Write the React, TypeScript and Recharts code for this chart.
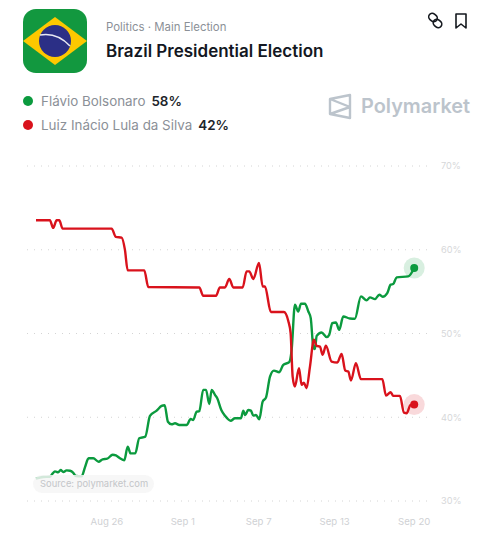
import React from "react";
import { LineChart, Line, XAxis, YAxis, CartesianGrid } from "recharts";

// days counted from Aug 26
const GREEN_DAYS = [
  -5.61, -5.03, -4.51, -4.29, -4.11, -3.85, -3.66, -3.45, -3.19, -2.92, -2.66, -2.45, -2.0, -1.74, -1.45, -1.08, -0.66,
  -0.34, 0.02, 0.45, 0.71, 1.03, 1.37, 1.64, 1.87, 2.24, 2.55, 3.03, 3.4, 3.93, 4.32, 4.56, 4.82, 5.11, 5.38, 5.72, 6.3,
  6.62, 6.82, 7.09, 7.3, 7.61, 7.83, 8.09, 8.28, 8.54, 8.72, 9.04, 9.33, 9.78, 10.12, 10.59, 10.78, 10.93, 11.17, 11.38,
  11.57, 11.78, 12.04, 12.31, 12.57, 12.89, 13.2, 13.62, 13.94, 14.41, 14.6, 14.86, 15.12, 15.34, 15.65, 15.92, 16.11,
  16.31, 16.44, 16.58, 16.97, 17.37, 17.57, 17.81, 18.1, 18.36, 18.68, 19.21, 19.6, 20.08, 20.53, 20.79, 21.19, 21.53,
  21.79, 22.16, 22.43, 22.63, 22.9, 23.82, 24.29,
];
const GREEN_VALUES = [
  32.66, 32.86, 32.9, 33.3, 33.54, 33.42, 33.7, 33.46, 33.66, 33.61, 33.37, 32.98, 32.94, 34.02, 35.1, 35.1, 34.69,
  34.98, 35.05, 35.53, 35.45, 35.1, 34.86, 36.48, 35.69, 35.69, 37.49, 37.68, 40.16, 40.79, 41.35, 41.44, 39.47, 39.16,
  39.28, 39.08, 39.08, 39.8, 39.68, 40.67, 40.72, 43.27, 43.27, 41.59, 43.27, 42.67, 42.27, 40.87, 40.19, 39.59, 39.88,
  39.88, 40.79, 40.27, 40.87, 40.79, 40.19, 40.27, 39.76, 41.87, 42.34, 44.86, 45.57, 45.38, 46.26, 46.58, 48.05, 53.43,
  52.63, 53.55, 53.55, 52.63, 51.84, 48.44, 48.13, 49.72, 50.12, 49.57, 49.84, 51.24, 51.32, 50.44, 52.03, 51.79, 51.76,
  54.43, 53.95, 54.31, 54.11, 54.63, 54.39, 54.83, 55.83, 55.91, 56.7, 56.82, 57.82,
];
const RED_DAYS = [
  -5.61, -4.51, -4.25, -3.98, -3.77, -3.5, 0.37, 0.71, 1.16, 1.42, 1.64, 2.95, 3.27, 7.3, 7.61, 8.62, 8.93, 9.33, 9.67,
  9.99, 10.73, 11.04, 11.25, 11.57, 12.02, 12.31, 12.49, 12.96, 13.99, 14.33, 14.52, 14.68, 14.86, 15.18, 15.39, 15.57,
  15.78, 16.05, 16.36, 16.58, 16.84, 17.05, 17.31, 17.76, 18.21, 18.55, 18.84, 19.08, 19.29, 19.68, 20.08, 21.77, 22.06,
  22.43, 22.63, 23.16, 23.48, 23.69, 24.0, 24.29,
];
const RED_VALUES = [
  63.52, 63.52, 62.61, 63.52, 63.52, 62.52, 62.52, 61.53, 61.45, 60.01, 57.54, 57.54, 55.55, 55.5, 54.51, 54.51, 55.5,
  55.5, 56.51, 55.5, 55.5, 57.42, 57.42, 56.51, 58.42, 55.62, 55.62, 52.56, 52.56, 51.52, 50.05, 44.86, 43.66, 45.86,
  43.86, 44.14, 43.47, 46.05, 49.25, 48.53, 48.44, 47.45, 48.53, 46.65, 46.53, 47.57, 45.57, 45.45, 44.38, 46.46, 44.55,
  44.55, 42.58, 42.99, 42.55, 42.55, 40.55, 40.48, 41.47, 41.51,
];

const X_TICKS = [0, 6, 12, 18, 24.29];
const X_LABELS = ["Aug 26", "Sep 1", "Sep 7", "Sep 13", "Sep 20"];
const Y_TICKS = [30, 40, 50, 60, 70];

const GREEN = "#0b9a3e";
const RED = "#d9121c";
const FONT = "Inter, sans-serif";

const zip = (days: number[], values: number[]) => days.map((day, i) => ({ day, value: values[i] }));

const endDot = (color: string, lastIndex: number) => (p: any) => {
  if (p.index !== lastIndex) return <g key={p.index} />;
  return (
    <g key={p.index}>
      <circle cx={p.cx} cy={p.cy} r={10.5} fill={color} fillOpacity={0.16} />
      <circle cx={p.cx} cy={p.cy} r={4} fill={color} />
    </g>
  );
};

const Flag = () => (
  <svg width={64} height={64} viewBox="0 0 64 64" style={{ position: "absolute", left: 23, top: 9 }}>
    <rect width={64} height={64} rx={13} fill="#12983f" />
    <polygon points="0,32 32,8 64,32 32,56" fill="#fdc800" />
    <circle cx={32} cy={32} r={16} fill="#2b2f86" />
    <path d="M17 26 Q34 23 47 37" stroke="#e8e8f4" strokeWidth={1.6} fill="none" />
  </svg>
);

const TopIcons = () => (
  <svg width={50} height={20} viewBox="0 0 50 20" style={{ position: "absolute", left: 427, top: 11 }} fill="none" stroke="#15191f" strokeWidth={1.6}>
    <rect x={1.5} y={3} width={9} height={7} rx={3.5} transform="rotate(40 6 6.5)" />
    <rect x={6} y={9} width={9} height={7} rx={3.5} transform="rotate(40 10.5 12.5)" />
    <path d="M29 3 H39 V17 L34 13 L29 17 Z" strokeLinejoin="round" />
  </svg>
);

const LogoMark = () => (
  <svg width={24} height={27} viewBox="0 0 24 27" style={{ position: "absolute", left: 328, top: 93 }} fill="none" stroke="#bcc4cc" strokeWidth={2.4}>
    <path d="M2 6 L22 2 V25 L2 21 Z M2 6 L22 14 L2 21" strokeLinejoin="round" />
  </svg>
);

const LegendRow = ({ top, color, name, pct }: { top: number; color: string; name: string; pct: string }) => (
  <div style={{ position: "absolute", left: 23, top, display: "flex", alignItems: "center", height: 20, whiteSpace: "nowrap" }}>
    <span style={{ width: 10, height: 10, borderRadius: 5, background: color, marginRight: 8 }} />
    <span style={{ fontSize: 13.4, color: "#8b9097" }}>{name}</span>
    <span style={{ fontSize: 13.4, fontWeight: 600, color: "#20242a", marginLeft: 6 }}>{pct}</span>
  </div>
);

export default function App() {
  return (
    <div style={{ position: "absolute", left: 0, top: 0, width: 493, height: 536, overflow: "hidden", background: "#fff", fontFamily: FONT }}>
      <LineChart
        width={493}
        height={536}
        margin={{ top: 166, right: 0, bottom: 0, left: 27 }}
        style={{ position: "absolute", left: 0, top: 0 }}
      >
        <CartesianGrid vertical={false} stroke="#d4d4d4" strokeDasharray="1 6" />
        <XAxis
          dataKey="day"
          type="number"
          domain={[-6.32, 25.38]}
          ticks={X_TICKS}
          tickFormatter={(v: number) => X_LABELS[X_TICKS.indexOf(v)]}
          axisLine={false}
          tickLine={false}
          height={35}
          interval={0}
          tick={{ fill: "#cfd1d4", fontSize: 9.6, fontFamily: FONT }}
          tickMargin={11}
        />
        <YAxis
          orientation="right"
          type="number"
          domain={[30, 70]}
          ticks={Y_TICKS}
          tickFormatter={(v: number) => `${v}%`}
          axisLine={false}
          tickLine={false}
          width={65}
          tick={{ fill: "#d6d7d9", fontSize: 9.2, fontFamily: FONT }}
          tickMargin={7}
        />
        <Line
          data={zip(GREEN_DAYS, GREEN_VALUES)}
          dataKey="value"
          type="monotone"
          stroke={GREEN}
          strokeWidth={2.4}
          dot={endDot(GREEN, GREEN_DAYS.length - 1)}
          activeDot={false}
          isAnimationActive={false}
        />
        <Line
          data={zip(RED_DAYS, RED_VALUES)}
          dataKey="value"
          type="monotone"
          stroke={RED}
          strokeWidth={2.4}
          dot={endDot(RED, RED_DAYS.length - 1)}
          activeDot={false}
          isAnimationActive={false}
        />
      </LineChart>

      {/* header */}
      <Flag />
      <div style={{ position: "absolute", left: 106, top: 20, fontSize: 11.4, color: "#8b9097", whiteSpace: "nowrap" }}>Politics · Main Election</div>
      <div style={{ position: "absolute", left: 106, top: 41, fontSize: 17, fontWeight: 600, color: "#131722", whiteSpace: "nowrap" }}>
        Brazil Presidential Election
      </div>
      <TopIcons />
      <LegendRow top={91} color={GREEN} name="Flávio Bolsonaro" pct="58%" />
      <LegendRow top={115} color={RED} name="Luiz Inácio Lula da Silva" pct="42%" />
      <LogoMark />
      <div style={{ position: "absolute", left: 361, top: 94, fontSize: 19.9, fontWeight: 600, color: "#bcc4cc", whiteSpace: "nowrap" }}>Polymarket</div>

      {/* source badge */}
      <div
        style={{
          position: "absolute",
          left: 33,
          top: 475,
          width: 121,
          height: 18,
          lineHeight: "18px",
          borderRadius: 9,
          background: "rgba(246,246,246,0.85)",
          fontSize: 9.4,
          color: "#c4c6c9",
          paddingLeft: 7,
          boxSizing: "border-box",
          whiteSpace: "nowrap",
        }}
      >
        Source: polymarket.com
      </div>
    </div>
  );
}
